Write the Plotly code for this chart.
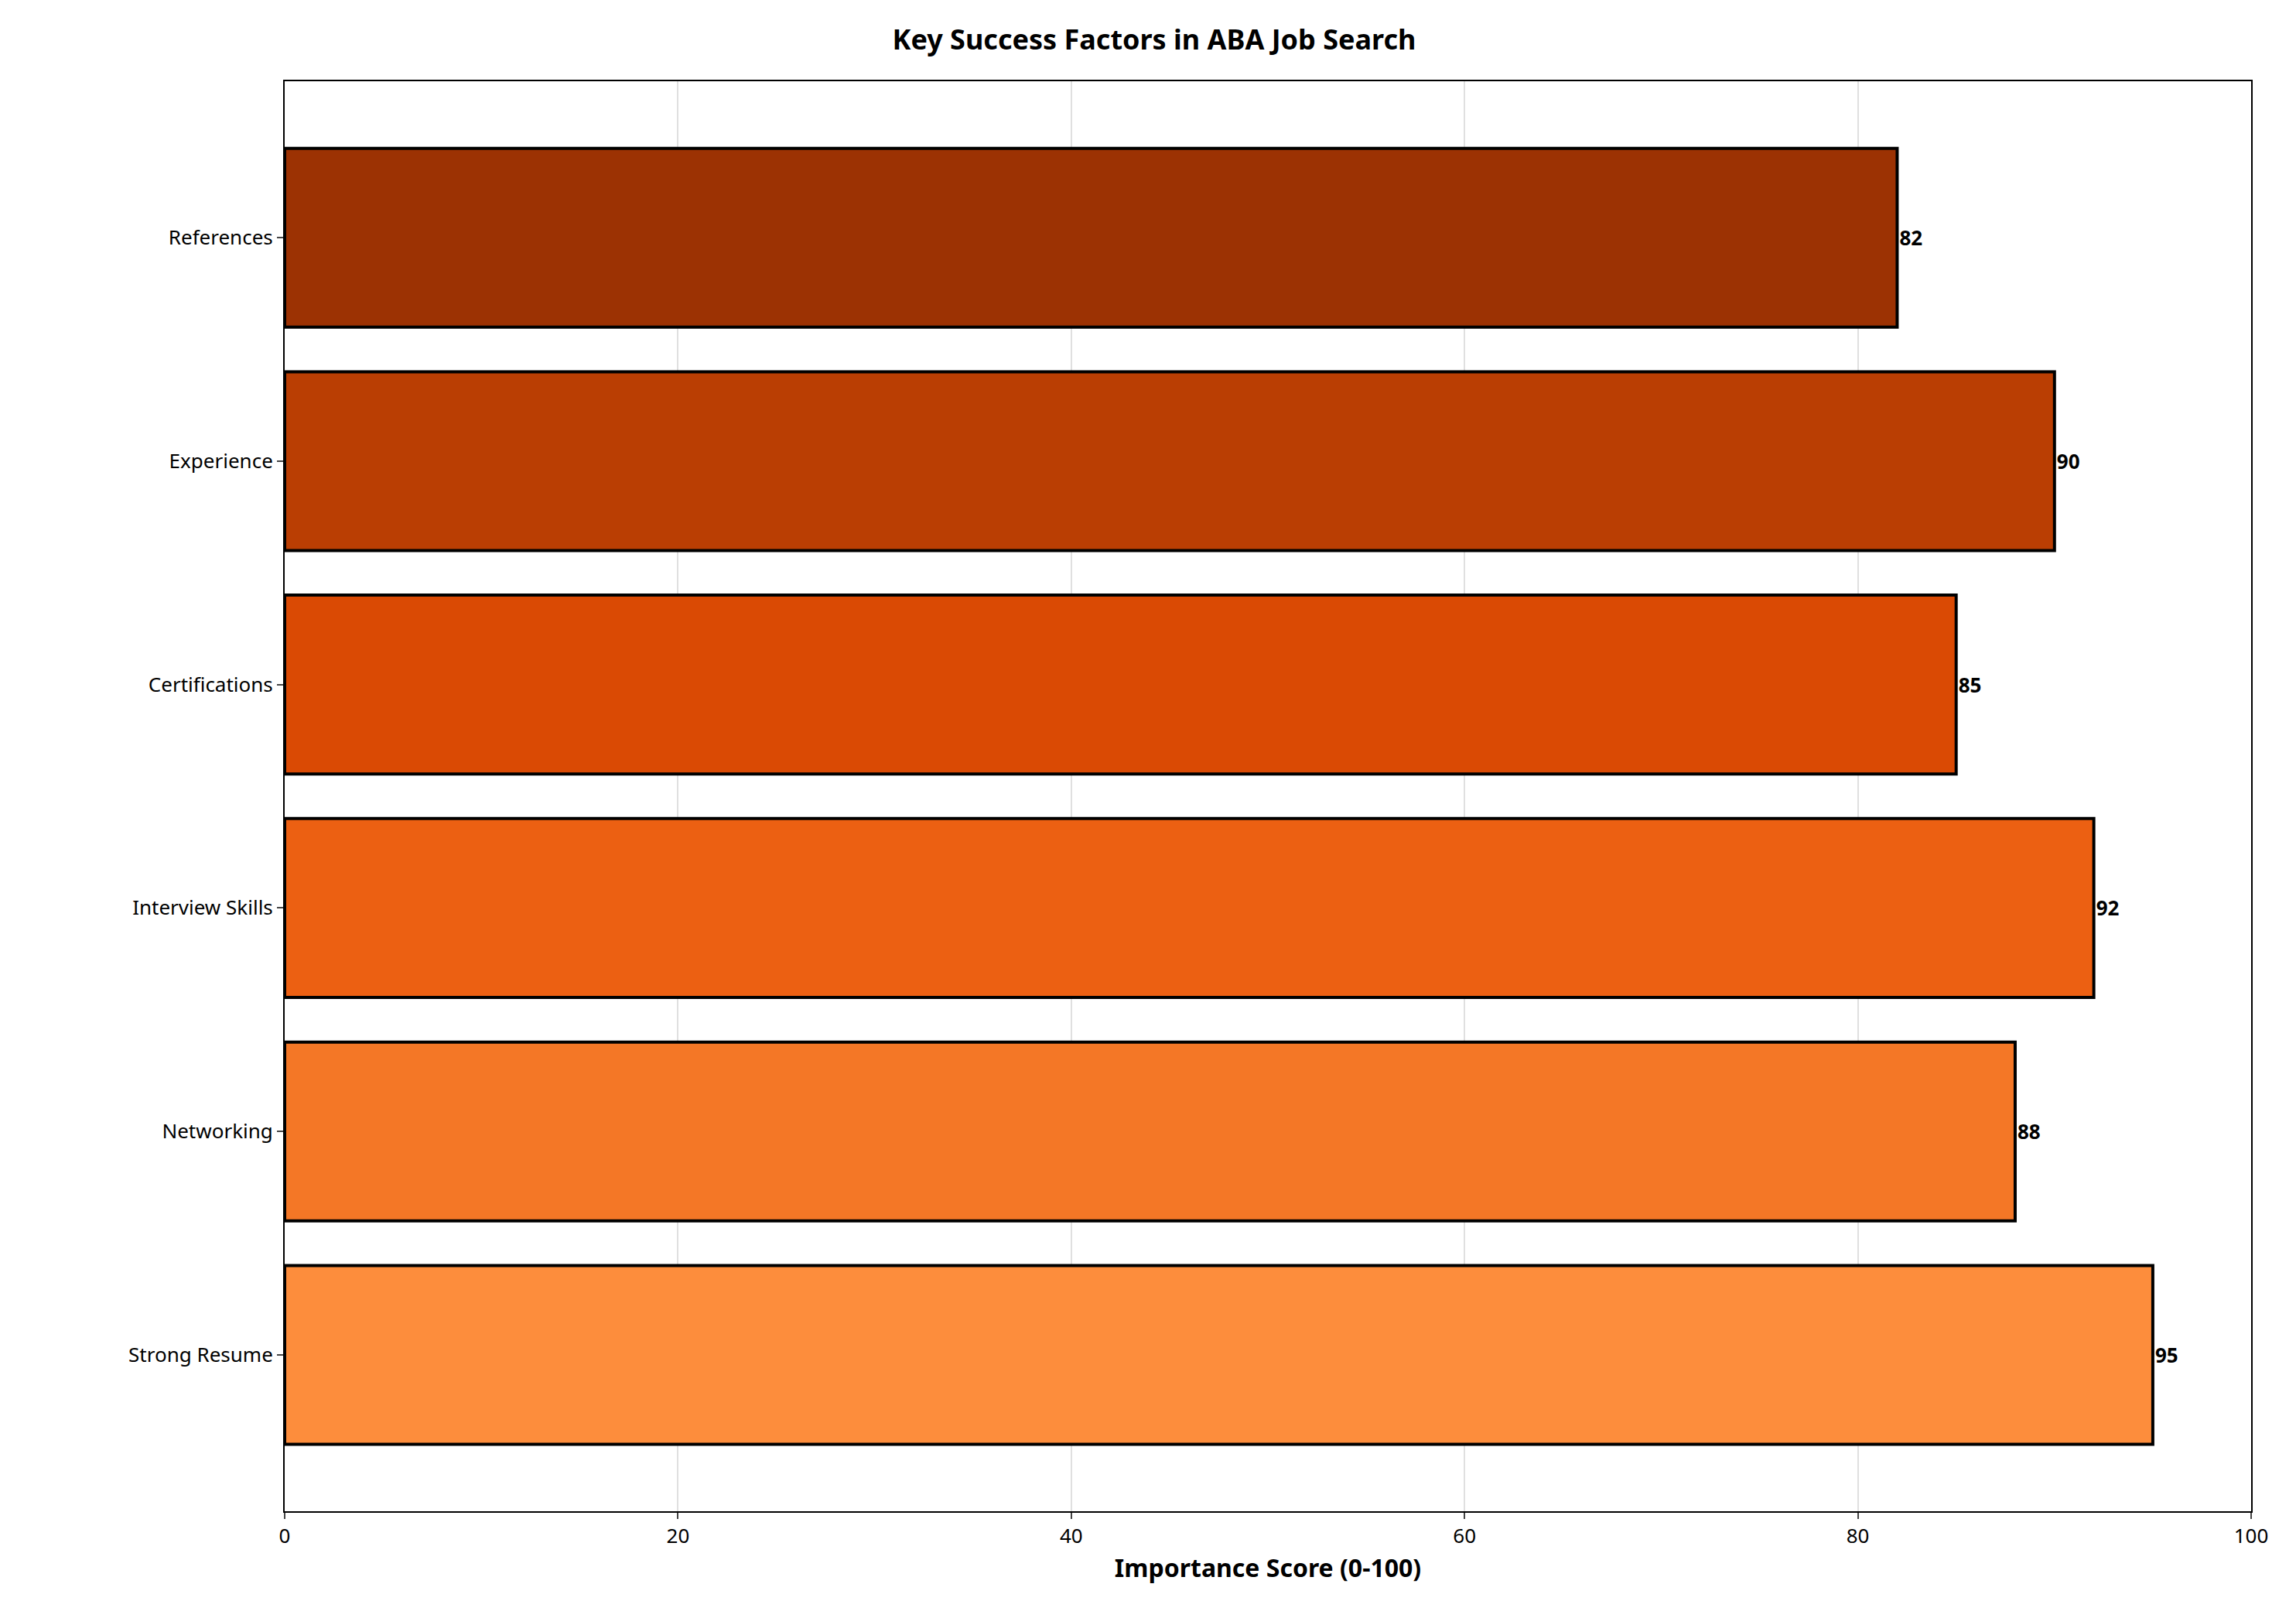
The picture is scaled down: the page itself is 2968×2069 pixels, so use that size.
import plotly.graph_objects as go

factors = ["Strong Resume", "Networking", "Interview Skills", "Certifications", "Experience", "References"]
scores = [95, 88, 92, 85, 90, 82]
colors = ["#FD8D3C", "#F47726", "#EC6012", "#DA4A04", "#BA3E03", "#9C3203"]

fig = go.Figure(go.Bar(
    y=factors, x=scores, orientation="h", width=0.8,
    marker=dict(color=colors, line=dict(color="black", width=4)),
    text=[str(s) for s in scores], textposition="outside",
    textfont=dict(size=26, color="black", family="Noto Sans", weight="bold"),
    cliponaxis=False,
))

fig.update_layout(
    width=2968, height=2069,
    plot_bgcolor="white", paper_bgcolor="white",
    font=dict(family="Noto Sans", size=26, color="black"),
    title=dict(text="<b>Key Success Factors in ABA Job Search</b>", x=0.5, xanchor="center",
               y=0.985, yanchor="top", font=dict(size=36)),
    margin=dict(l=360, r=66, t=97, b=124),
    showlegend=False, bargap=0.2,
)
fig.update_xaxes(range=[0, 100], dtick=20, showgrid=True, gridcolor="#E0E0E0", gridwidth=2,
                 showline=True, linecolor="black", linewidth=2, mirror=True,
                 ticks="outside", ticklen=8, tickwidth=2, zeroline=False,
                 title=dict(text="<b>Importance Score (0-100)</b>", font=dict(size=32), standoff=14))
fig.update_yaxes(range=[-0.7, 5.7], showgrid=False, showline=True, linecolor="black", linewidth=2,
                 mirror=True, ticks="outside", ticklen=8, tickwidth=2)

fig.write_html("out.html")
